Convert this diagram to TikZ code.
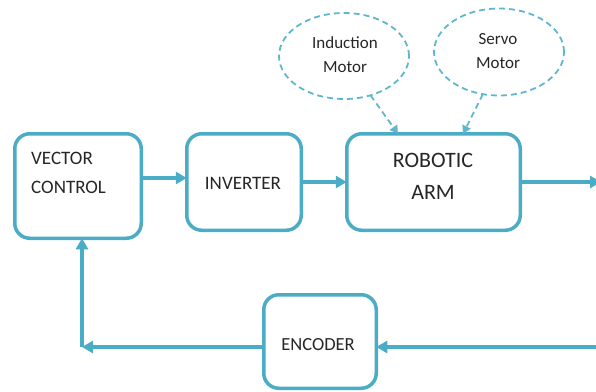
\documentclass[tikz,border=0pt]{standalone}
\usepackage{fontspec}
\setmainfont{Carlito}
\usetikzlibrary{arrows.meta,shapes.geometric}
\definecolor{aqua}{RGB}{75,172,198}
\definecolor{aqualight}{RGB}{95,183,206}
\tikzset{
  blockbox/.style={draw=aqua, line width=3.5pt, rounded corners=15pt, fill=white,
    inner sep=0pt, outer sep=0pt},
  motor/.style={ellipse, draw=aqualight, line width=1.8pt, dash pattern=on 6pt off 4pt,
    inner sep=0pt, outer sep=0pt},
  flow/.style={draw=aqua, line width=3.5pt, -{Triangle[length=11pt,width=12pt]}},
  feed/.style={draw=aqualight, line width=1.8pt, dash pattern=on 6pt off 4pt,
    -{Triangle[length=8pt,width=9pt]}},
  lbl/.style={inner sep=0pt, text=black!85},
}
\begin{document}
\begin{tikzpicture}[x=1pt,y=-1pt]
\useasboundingbox (0,0) rectangle (596,391);

% blocks
\node[blockbox, minimum width=126.5pt, minimum height=104.5pt] (vc)  at (78,186) {};
\node[blockbox, minimum width=114.5pt, minimum height=96.5pt]  (inv) at (244,182) {};
\node[blockbox, minimum width=173.5pt, minimum height=96.5pt]  (rob) at (433.5,182) {};
\node[blockbox, minimum width=112.5pt, minimum height=93.5pt]  (enc) at (320,341.5) {};

% motors
\node[motor, minimum width=130pt, minimum height=86pt] (im) at (344,56) {};
\node[motor, minimum width=130pt, minimum height=87pt] (sm) at (499,52) {};

% labels
\node[lbl, anchor=base west, font=\fontsize{19}{19}\selectfont] (vct) at (31,164) {VECTOR};
\node[lbl, anchor=base west, font=\fontsize{19}{19}\selectfont] (cnt) at (31,193) {CONTROL};
\node[lbl, font=\fontsize{19}{19}\selectfont] (invt) at (243,183) {INVERTER};
\node[lbl, anchor=base, font=\fontsize{22}{22}\selectfont] (robt) at (433,167) {ROBOTIC};
\node[lbl, anchor=base, font=\fontsize{22}{22}\selectfont] (armt) at (433,199) {ARM};
\node[lbl, font=\fontsize{18.5}{18.5}\selectfont] (enct) at (318,345) {ENCODER};
\node[lbl, anchor=base, font=\fontsize{17}{17}\selectfont] (imt1) at (345,48) {Induction};
\node[lbl, anchor=base, font=\fontsize{17}{17}\selectfont] (imt2) at (345,72) {Motor};
\node[lbl, anchor=base, font=\fontsize{17}{17}\selectfont] (smt1) at (498,44) {Servo};
\node[lbl, anchor=base, font=\fontsize{17}{17}\selectfont] (smt2) at (498,68) {Motor};

% reference levels and free ends
\coordinate (ya) at (0,178);
\coordinate (yb) at (0,182);
\coordinate (yc) at (0,347);
\coordinate (outR) at (601,182);
\coordinate (inR) at (600,347);
\coordinate (corner) at (82,347);
\coordinate (imIn) at (398,0);
\coordinate (smIn) at (463,0);

% forward path
\draw[flow] (vc.east |- ya) -- (inv.west |- ya);
\draw[flow] (inv.east |- yb) -- (rob.west |- yb);
\draw[flow] (rob.east |- yb) -- (outR);

% feedback path
\draw[flow] (inR) -- (enc.east |- yc);
\draw[flow] (enc.west |- yc) -- (corner);
\draw[flow] (corner) -- (corner |- vc.south);

% motor links
\draw[feed] (im.-56) -- (imIn |- rob.north);
\draw[feed] (sm.-111) -- (smIn |- rob.north);
\end{tikzpicture}
\end{document}
